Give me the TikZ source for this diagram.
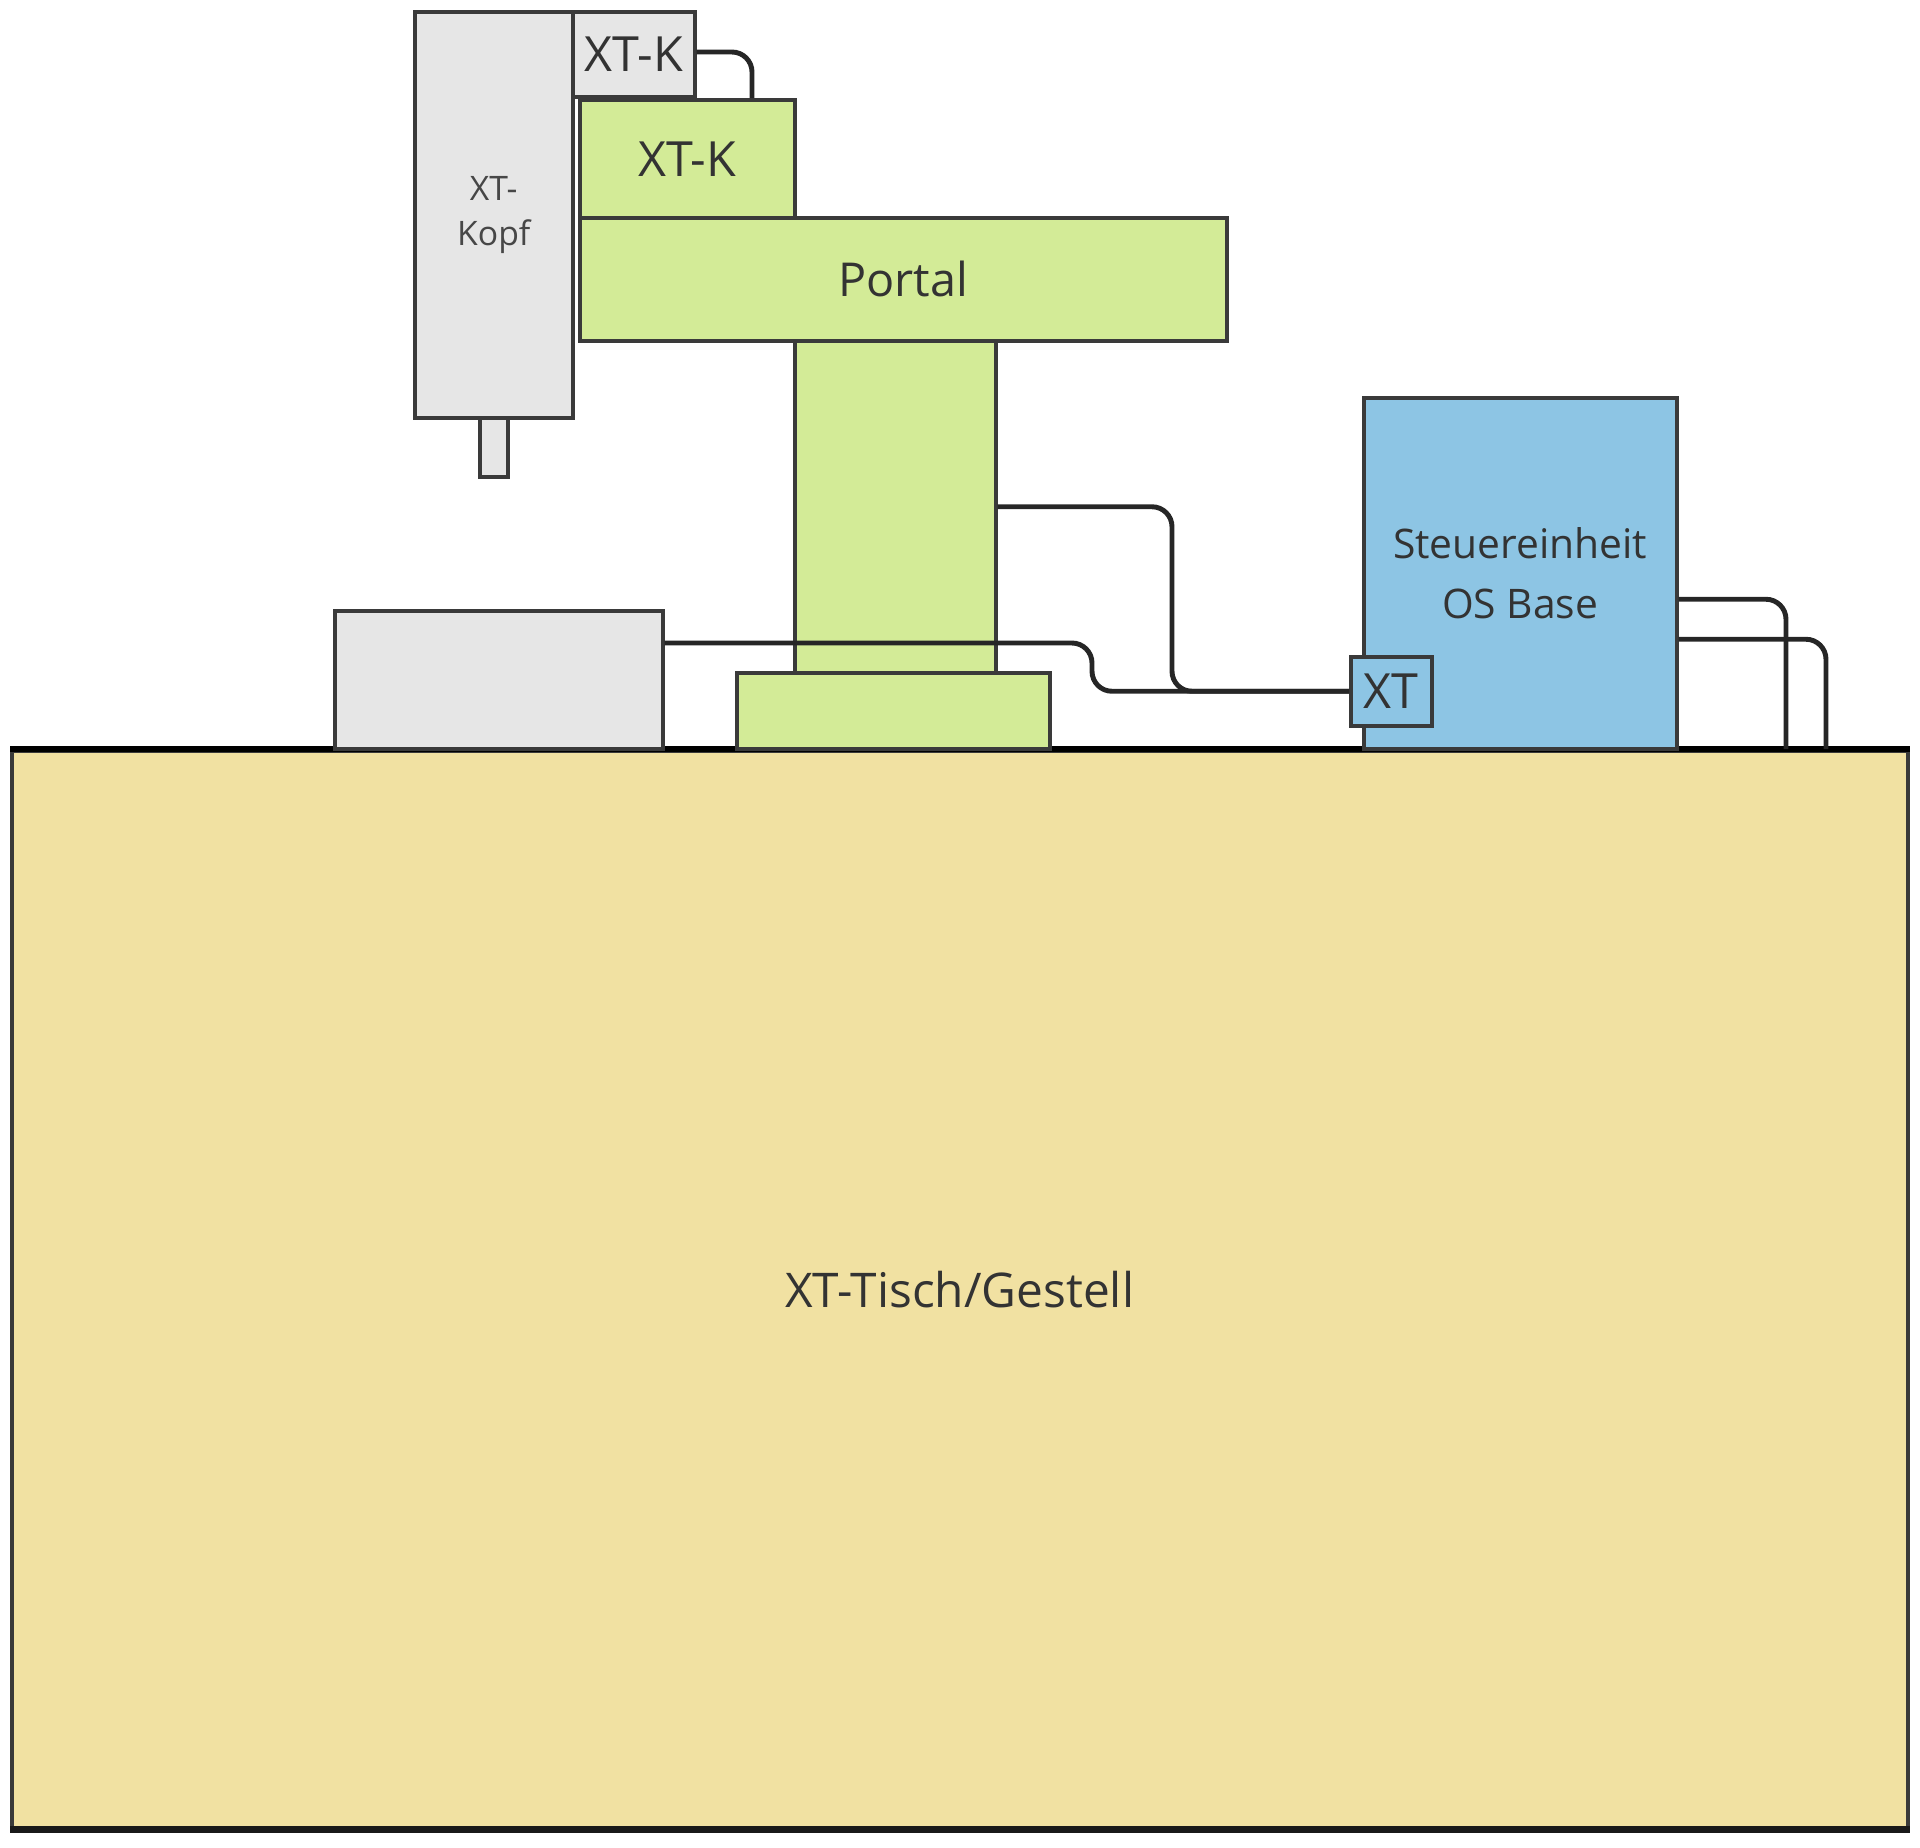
\documentclass[tikz,border=0pt]{standalone}
\usepackage{fontspec}
\setmainfont{Open Sans}
\definecolor{gfill}{HTML}{E6E6E6}
\definecolor{lgreen}{HTML}{D3EB97}
\definecolor{lblue}{HTML}{8DC5E4}
\definecolor{tisch}{HTML}{F1E1A2}
\definecolor{edge}{HTML}{3A3A3A}
\definecolor{txt}{HTML}{333333}
\tikzset{
  part/.style={draw=edge, line width=1pt, inner sep=0pt, anchor=north west, text=txt, align=center},
  grayp/.style={part, fill=gfill},
  greenp/.style={part, fill=lgreen},
  bluep/.style={part, fill=lblue},
  cable/.style={draw=black!85, line width=1.4pt, rounded corners=2mm},
  fbig/.style={font=\fontsize{13.8}{16}\selectfont},
  fmid/.style={font=\fontsize{11.6}{17}\selectfont},
  fsmall/.style={font=\fontsize{9.6}{12.8}\selectfont, text=txt!90},
}
\begin{document}
\begin{tikzpicture}[x=0.1mm, y=-0.1mm]
\useasboundingbox (0,0) rectangle (1920,1848);
% table
\node[part, fill=tisch, minimum width=189.6mm, minimum height=107.7mm, font=\fontsize{13.6}{16}\selectfont] (tisch) at (10,749) {XT-Tisch/Gestell};
\draw[line width=1.6pt, black] (tisch.north west) -- (tisch.north east);
\draw[line width=2.2pt, black!90] (tisch.south west) -- (tisch.south east);
% head
\node[grayp, fsmall, minimum width=15.8mm, minimum height=40.6mm] (kopf) at (413,10) {XT-\\Kopf};
\node[grayp, minimum width=2.8mm, minimum height=5.9mm] (spindel) at (478,416) {};
\node[grayp, fbig, minimum width=12.2mm, minimum height=8.5mm] (xtks) at (571,10) {XT-K};
\node[greenp, fbig, minimum width=21.5mm, minimum height=11.8mm] (xtkg) at (578,98) {XT-K};
\node[greenp, font=\fontsize{13.3}{16}\selectfont, minimum width=64.7mm, minimum height=12.3mm] (portal) at (578,216) {Portal};
\node[greenp, minimum width=20.1mm, minimum height=33.2mm] (saeule) at (793,339) {};
\node[greenp, minimum width=31.3mm, minimum height=7.6mm] (fuss) at (735,671) {};
\node[grayp, minimum width=32.8mm, minimum height=13.8mm] (kasten) at (333,609) {};
% control unit
\node[bluep, fmid, minimum width=31.3mm, minimum height=35.1mm] (steuer) at (1362,396) {Steuereinheit\\OS Base};
\node[bluep, fbig, minimum width=8.1mm, minimum height=6.9mm] (xt) at (1349,655) {XT};
% cable end points
\coordinate (j1) at (1172,600);
\coordinate (j2) at (1092,643);
\coordinate (e1) at (1786,749);
\coordinate (e2) at (1826,749);
\coordinate (k1) at (752,98);
% cables
\draw[cable] (xtks.east |- 0,52) -| (k1);
\draw[cable] (saeule.east) -| (j1) |- (xt.west);
\draw[cable] ([yshift=-3.4mm]kasten.north east) -- (j2) |- (xt.west);
\draw[cable] ([yshift=-2.6mm]steuer.east) -| (e1);
\draw[cable] ([yshift=-6.6mm]steuer.east) -| (e2);
\end{tikzpicture}
\end{document}
